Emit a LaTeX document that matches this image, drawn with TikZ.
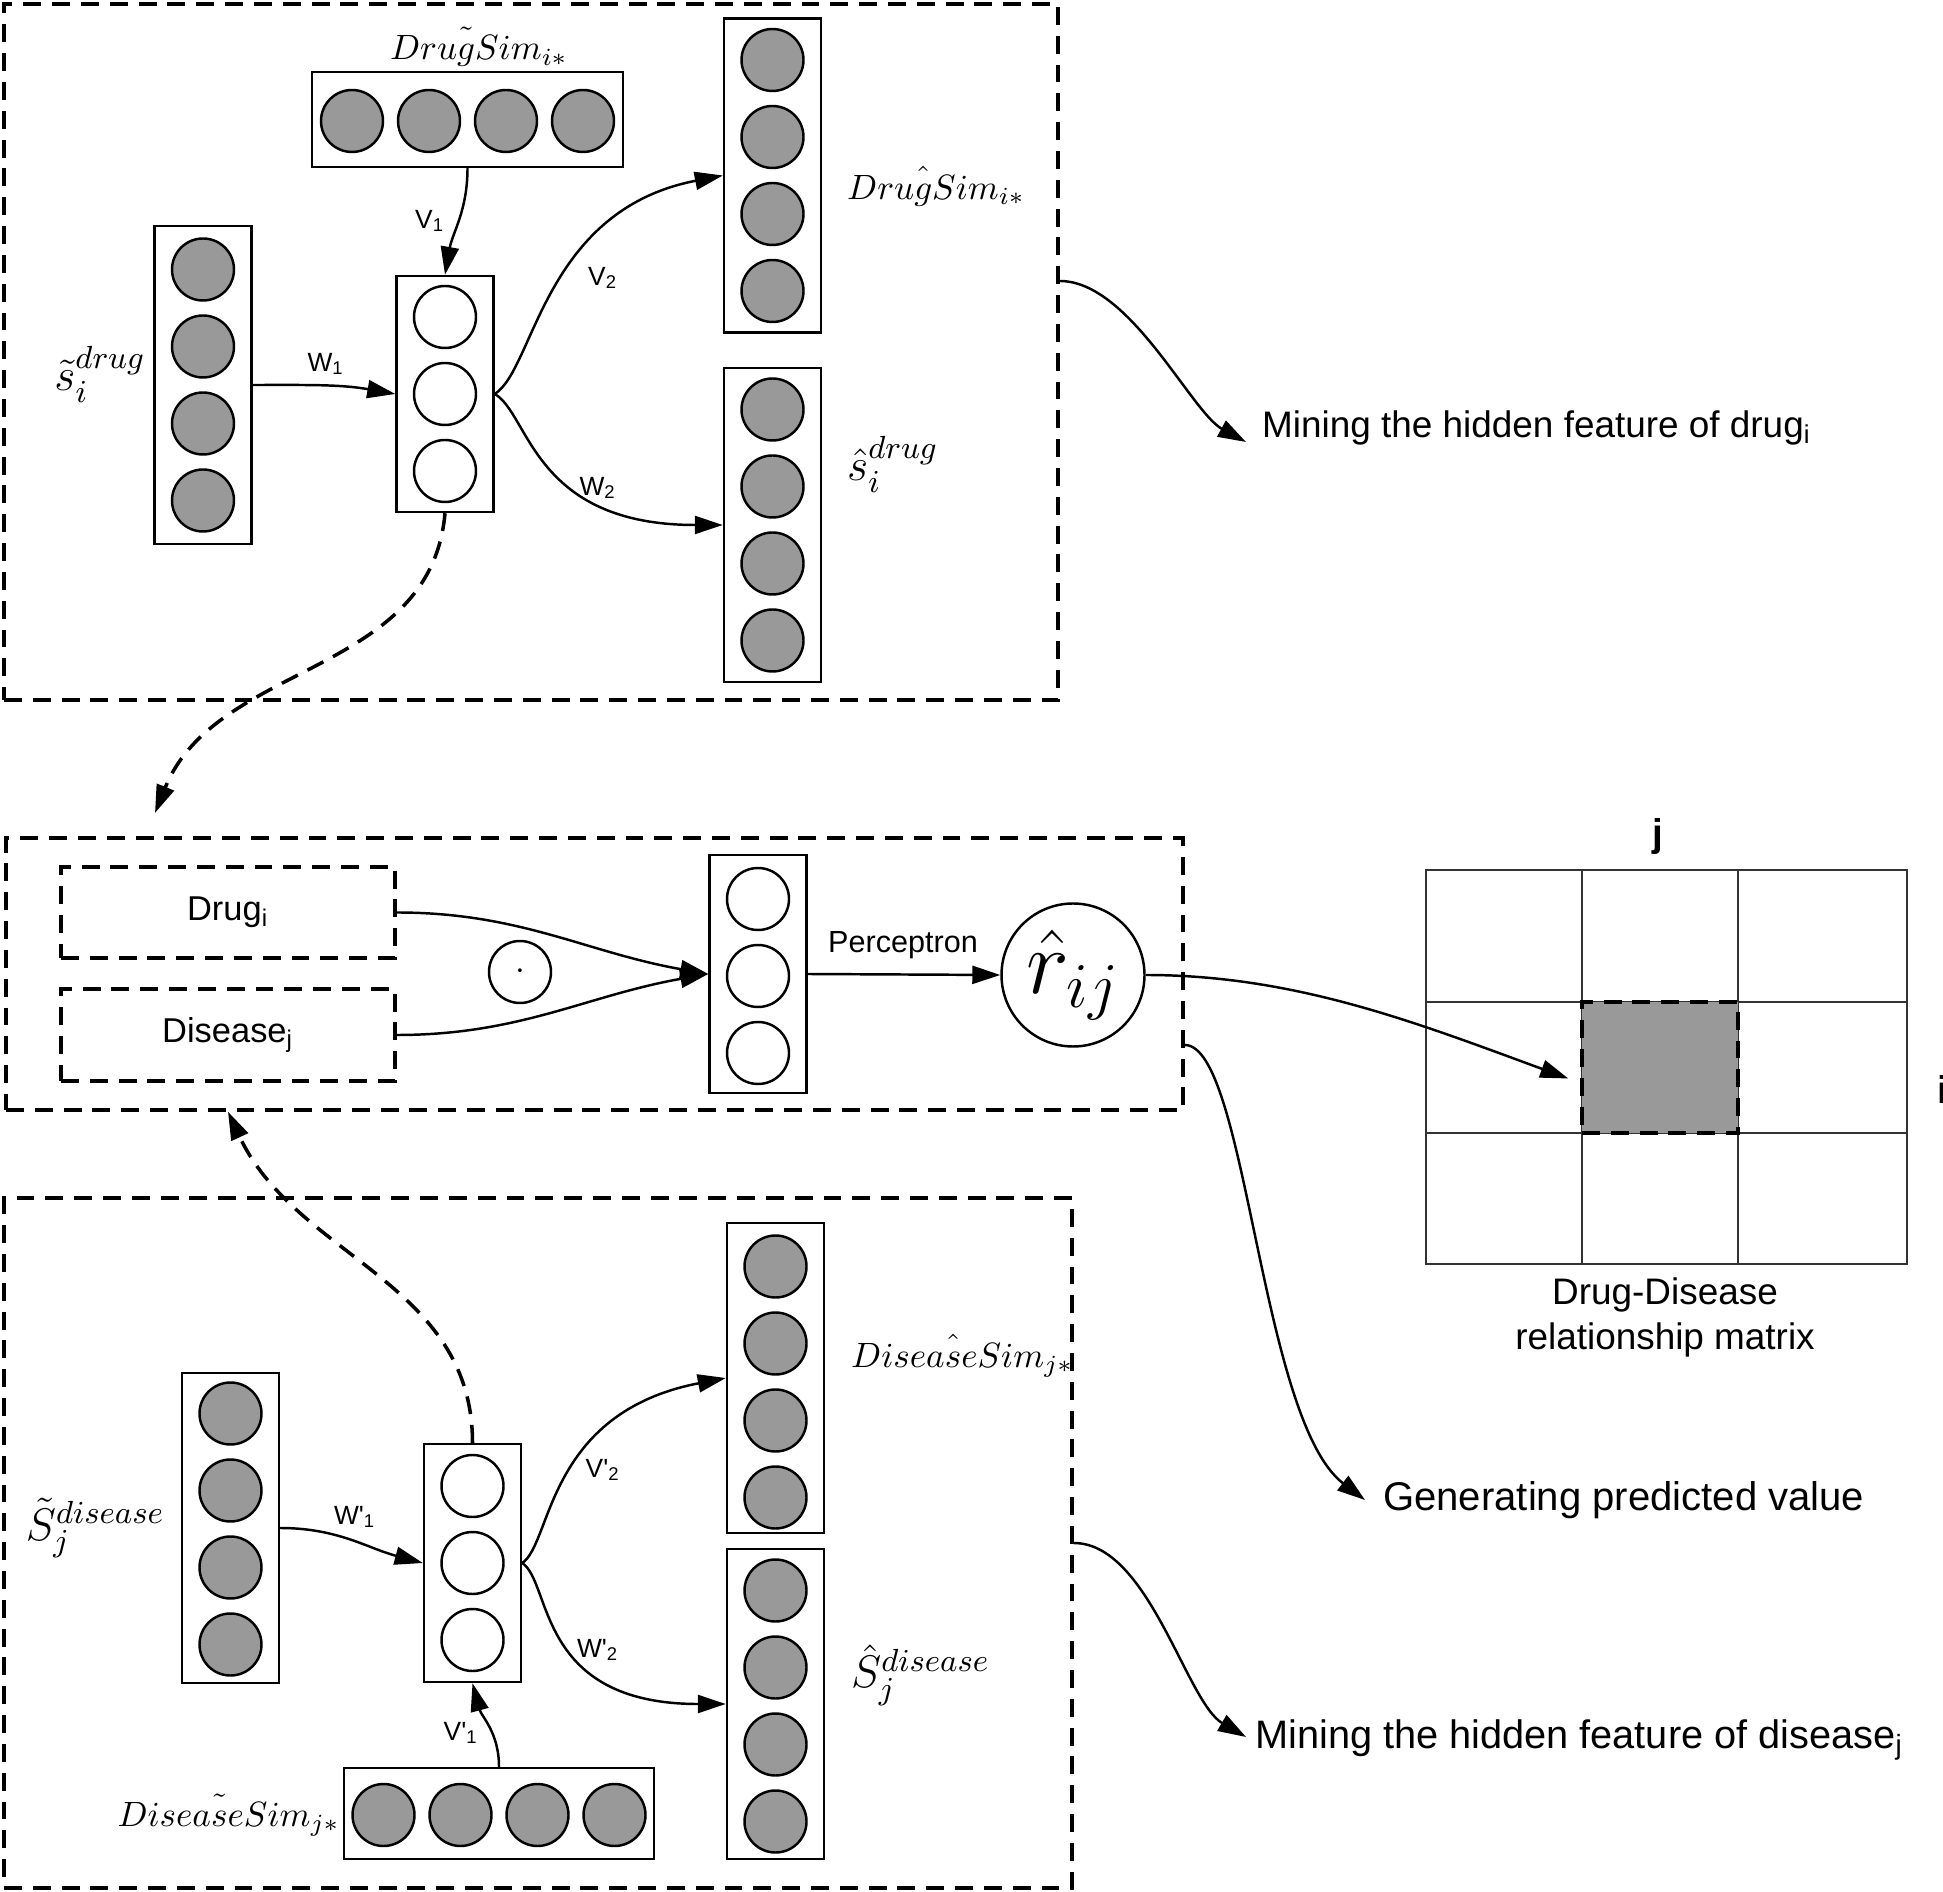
\RequirePackage{fix-cm}
\documentclass[tikz,border=0pt]{standalone}
\usepackage{amsmath}
\usepackage{fontspec}
\setsansfont{Liberation Sans}
\usepackage{tikz}
\usetikzlibrary{arrows.meta,positioning}

\begin{document}
\begin{tikzpicture}[>={Triangle[length=0.28cm,width=0.18cm]},line width=0.7pt]
\tikzstyle{bigbox} = [draw,line width=1pt,dash pattern=on 5.1pt off 3.1pt,inner sep=0pt]
\tikzstyle{layer} = [draw,rectangle,inner sep=0pt,minimum width=0.97cm]
\tikzstyle{unit} = [circle,draw,fill=black!40,minimum size=0.62cm,inner sep=0pt]
\tikzstyle{hunit} = [circle,draw,fill=white,minimum size=0.62cm,inner sep=0pt]
\tikzstyle{wlab} = [font=\sffamily\fontsize{7.5}{9}\selectfont,inner sep=0pt]
\tikzstyle{txt} = [font=\sffamily\fontsize{10.5}{12.8}\selectfont,inner sep=0pt]
\tikzstyle{simlab} = [font=\fontsize{10}{12}\selectfont,inner sep=0pt]
\tikzstyle{veclab} = [font=\fontsize{13}{15}\selectfont,inner sep=0pt]
\tikzset{arr/.style={->}}
\tikzset{dasharr/.style={->,line width=1pt,dash pattern=on 5.1pt off 3.1pt}}

\useasboundingbox (0,0) rectangle (19.43,-18.92);

% drug part
\node[bigbox,minimum width=10.54cm,minimum height=6.96cm] (topbox) at (5.31,-3.52) {};
\node[layer,minimum height=3.18cm] (sdin) at (2.03,-3.85) {};
\foreach \k in {1,...,4}
  \node[unit] (sdin\k) at (2.03,{-3.85+(2.5-\k)*0.77}) {};
\node[veclab,anchor=east] (sdinlab) at (1.47,-3.74) {$\tilde{s}_i^{drug}$};

\node[layer,minimum height=2.36cm] (hid) at (4.45,-3.94) {};
\foreach \k in {1,2,3}
  \node[hunit] (hid\k) at (4.45,{-3.94+(2-\k)*0.77}) {};

\node[layer,minimum width=3.11cm,minimum height=0.95cm] (dsim) at (4.675,-1.195) {};
\foreach \k in {1,...,4}
  \node[unit] (dsim\k) at ({4.675+(\k-2.5)*0.77},-1.21) {};
\node[simlab] (dsimlab) at (4.79,-0.47) {$Dru\tilde{\vphantom{D}g}Sim_{i*}$};

\node[layer,minimum height=3.14cm] (dshat) at (7.725,-1.755) {};
\foreach \k in {1,...,4}
  \node[unit] (dshat\k) at (7.725,{-1.755+(2.5-\k)*0.77}) {};
\node[simlab,anchor=west] (dshatlab) at (8.46,-1.86) {$Dru\hat{\vphantom{D}g}Sim_{i*}$};

\node[layer,minimum height=3.14cm] (sdhat) at (7.725,-5.25) {};
\foreach \k in {1,...,4}
  \node[unit] (sdhat\k) at (7.725,{-5.25+(2.5-\k)*0.77}) {};
\node[veclab,anchor=west] (sdhatlab) at (8.46,-4.64) {$\hat{s}_i^{drug}$};

\draw[arr] (sdin.east) to[out=0,in=170] (hid.west);
\node[wlab] (w1) at (3.26,-3.64) {W\textsubscript{1}};
\draw[arr] (dsim.south) to[out=-90,in=80] (hid.north);
\node[wlab] (v1) at (4.30,-2.21) {V\textsubscript{1}};
\draw[arr] (hid.east) .. controls +(0.4,0.25) and +(-1.8,-0.35) .. (dshat.west);
\node[wlab] (v2) at (6.03,-2.78) {V\textsubscript{2}};
\draw[arr] (hid.east) .. controls +(0.35,-0.2) and +(-1.9,0) .. (sdhat.west);
\node[wlab] (w2) at (5.98,-4.88) {W\textsubscript{2}};

% prediction part
\node[bigbox,minimum width=11.77cm,minimum height=2.72cm] (midbox) at (5.945,-9.74) {};
\node[bigbox,minimum width=3.34cm,minimum height=0.91cm,font=\sffamily\fontsize{9.8}{12}\selectfont] (drug) at (2.28,-9.125) {Drug\textsubscript{i}};
\node[bigbox,minimum width=3.34cm,minimum height=0.92cm,font=\sffamily\fontsize{9.8}{12}\selectfont] (dis) at (2.28,-10.35) {Disease\textsubscript{j}};
\node[circle,draw,minimum size=0.62cm,inner sep=0pt] (dot) at (5.20,-9.72) {$\cdot$};
\node[layer,minimum height=2.38cm] (cat) at (7.58,-9.74) {};
\foreach \k in {1,2,3}
  \node[hunit] (cat\k) at (7.58,{-9.76+(2-\k)*0.77}) {};
\node[circle,draw,minimum size=1.43cm,inner sep=0pt,font=\fontsize{26}{30}\selectfont] (rhat) at (10.73,-9.75) {$\hat{r}_{ij}$};

\draw[arr] (drug.east) to[out=0,in=170] (cat.west);
\draw[arr] (dis.east) to[out=0,in=190] (cat.west);
\draw[arr] (cat.east) -- (rhat.west);
\node[wlab,font=\sffamily\fontsize{8.7}{10}\selectfont] (perc) at (9.03,-9.45) {Perceptron};

% relationship matrix
\draw[line width=0.5pt,black!80] (14.26,-8.70) rectangle (19.07,-12.64);
\draw[line width=0.5pt,black!80] (15.82,-8.70) -- (15.82,-12.64) (17.38,-8.70) -- (17.38,-12.64)
  (14.26,-10.02) -- (19.07,-10.02) (14.26,-11.33) -- (19.07,-11.33);
\node[draw,fill=black!40,line width=1pt,dash pattern=on 5.1pt off 3.1pt,minimum width=1.56cm,minimum height=1.31cm,inner sep=0pt] (cell) at (16.60,-10.675) {};
\node[font=\sffamily\bfseries\fontsize{11}{13}\selectfont,inner sep=0pt] (jlab) at (16.58,-8.37) {j};
\node[font=\sffamily\bfseries\fontsize{11}{13}\selectfont,inner sep=0pt,anchor=west] (ilab) at (19.36,-10.895) {i};
\node[txt,align=center] (mlab) at (16.65,-13.17) {Drug-Disease\\relationship matrix};

\draw[arr] (rhat.east) .. controls +(1.5,0) and +(-1.5,0.55) .. ([xshift=-0.12cm,yshift=-0.11cm]cell.west);

% disease part
\node[bigbox,minimum width=10.68cm,minimum height=6.90cm] (botbox) at (5.38,-15.43) {};
\node[layer,minimum height=3.10cm] (sjin) at (2.305,-15.28) {};
\foreach \k in {1,...,4}
  \node[unit] (sjin\k) at (2.305,{-15.29+(2.5-\k)*0.77}) {};
\node[veclab,anchor=east] (sjinlab) at (1.66,-15.28) {$\tilde{S}_j^{disease}$};

\node[layer,minimum height=2.38cm] (dhid) at (4.725,-15.63) {};
\foreach \k in {1,2,3}
  \node[hunit] (dhid\k) at (4.725,{-15.63+(2-\k)*0.77}) {};

\node[layer,minimum height=3.10cm] (dishat) at (7.755,-13.78) {};
\foreach \k in {1,...,4}
  \node[unit] (dishat\k) at (7.755,{-13.82+(2.5-\k)*0.77}) {};
\node[simlab,anchor=west] (dishatlab) at (8.50,-13.56) {$Disea\hat{\vphantom{D}s}eSim_{j*}$};

\node[layer,minimum height=3.10cm] (sjhat) at (7.755,-17.04) {};
\foreach \k in {1,...,4}
  \node[unit] (sjhat\k) at (7.755,{-17.06+(2.5-\k)*0.77}) {};
\node[veclab,anchor=west] (sjhatlab) at (8.50,-16.75) {$\hat{S}_j^{disease}$};

\node[layer,minimum width=3.10cm,minimum height=0.91cm] (dsrow) at (4.99,-18.135) {};
\foreach \k in {1,...,4}
  \node[unit] (dsrow\k) at ({4.99+(\k-2.5)*0.77},-18.15) {};
\node[simlab,anchor=east] (dsrowlab) at (3.41,-18.15) {$Disea\tilde{\vphantom{D}s}eSim_{j*}$};

\draw[arr] (sjin.east) to[out=0,in=165] (dhid.west);
\node[wlab] (w1p) at (3.55,-15.17) {W\textquotesingle\textsubscript{1}};
\draw[arr] (dsrow.north) to[out=90,in=-75] (dhid.south);
\node[wlab] (v1p) at (4.61,-17.33) {V\textquotesingle\textsubscript{1}};
\draw[arr] (dhid.east) .. controls +(0.3,0.2) and +(-1.8,-0.35) .. (dishat.west);
\node[wlab] (v2p) at (6.03,-14.70) {V\textquotesingle\textsubscript{2}};
\draw[arr] (dhid.east) .. controls +(0.3,-0.2) and +(-1.9,0) .. (sjhat.west);
\node[wlab] (w2p) at (5.98,-16.50) {W\textquotesingle\textsubscript{2}};

% hidden features into the prediction
\coordinate (dropend) at (1.55,-8.13);
\draw[dasharr] (hid.south) to[out=-95,in=68] (dropend);
\draw[dasharr] (dhid.north) to[out=90,in=-65] (dis.south |- midbox.south);

% side notes
\node[txt,anchor=west] (mdrug) at (12.61,-4.28) {Mining the hidden feature of drug\textsubscript{i}};
\draw[arr] ([yshift=0.71cm]topbox.east) .. controls +(0.7,0) and +(-0.55,0.3) .. ([xshift=-0.15cm,yshift=-0.14cm]mdrug.west);
\node[txt,anchor=west,font=\sffamily\fontsize{11.4}{13.5}\selectfont] (gen) at (13.82,-15.00) {Generating predicted value};
\draw[arr] ([yshift=-0.71cm]midbox.east) .. controls +(0.62,0) and +(-1.05,0.8) .. ([xshift=-0.17cm]gen.west);
\node[txt,anchor=west,font=\sffamily\fontsize{11.3}{13.5}\selectfont] (mdis) at (12.54,-17.40) {Mining the hidden feature of disease\textsubscript{j}};
\draw[arr] (botbox.east) .. controls +(0.75,0) and +(-0.6,0.35) .. ([xshift=-0.08cm,yshift=0.03cm]mdis.west);
\end{tikzpicture}
\end{document}
